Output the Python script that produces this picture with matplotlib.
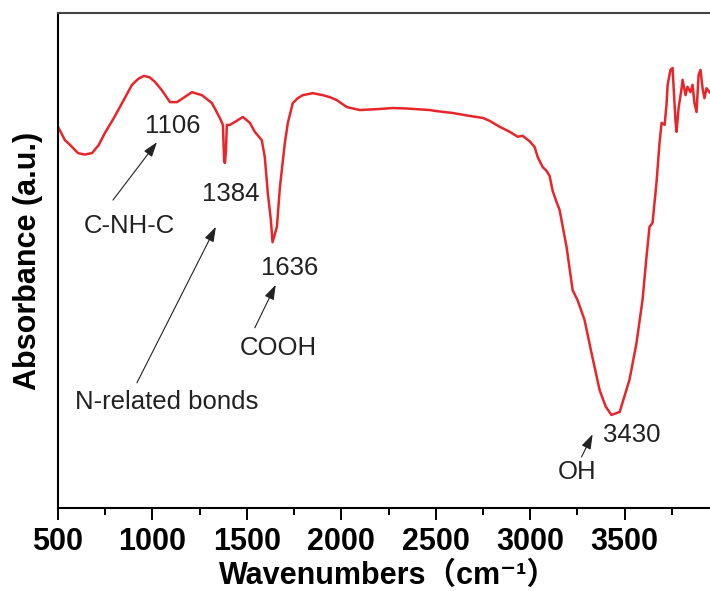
"""FTIR spectrum with labelled absorption bands."""

import matplotlib

matplotlib.use("Agg")
import matplotlib.pyplot as plt  # noqa: E402

plt.rcParams["font.family"] = ["Liberation Sans", "Noto Sans CJK SC", "DejaVu Sans"]

# spectrum (wavenumber in cm-1, absorbance in a.u.)
wavenumber = [
    500, 537, 560, 606, 640, 680, 715, 749, 796, 839, 892, 925, 955, 985,
    1013, 1050, 1093, 1130, 1170, 1209, 1262, 1315, 1357, 1373, 1380, 1384,
    1389, 1394, 1410, 1437, 1479, 1516, 1542, 1579, 1595, 1611, 1627, 1636,
    1659, 1675, 1701, 1717, 1743, 1770, 1796, 1849, 1902, 1939, 1976, 2029,
    2098, 2200, 2272, 2350, 2468, 2500, 2590, 2650, 2680, 2750, 2786, 2839,
    2892, 2934, 2960, 2997, 3024, 3040, 3066, 3087, 3103, 3119, 3140, 3156,
    3193, 3225, 3251, 3288, 3325, 3368, 3400, 3430, 3474, 3526, 3563, 3595,
    3616, 3632, 3648, 3669, 3685, 3696, 3712, 3722, 3728, 3743, 3754, 3759,
    3770, 3775, 3786, 3802, 3807, 3823, 3833, 3849, 3860, 3870, 3881, 3892,
    3902, 3913, 3923, 3934, 3950,
]
absorbance = [
    77.0, 74.3, 73.5, 71.7, 71.4, 71.7, 73.3, 75.8, 78.8, 81.8, 85.5, 86.7, 87.3, 87.0,
    86.1, 84.4, 82.0, 82.0, 83.0, 84.0, 83.4, 81.8, 78.8, 77.4, 70.0, 69.7,
    72.0, 77.4, 77.4, 78.0, 79.0, 77.8, 76.0, 74.3, 70.9, 63.6, 58.2, 53.7,
    56.8, 64.8, 73.7, 77.8, 81.8, 82.8, 83.4, 83.8, 83.4, 83.0, 82.4, 81.0,
    80.4, 80.6, 80.8, 80.7, 80.4, 80.2, 79.8, 79.4, 79.2, 78.8, 78.2, 77.0,
    76.0, 75.0, 75.2, 74.1, 72.9, 70.9, 68.9, 68.1, 67.1, 64.1, 61.8, 60.2,
    52.7, 44.0, 42.0, 38.0, 31.3, 23.8, 20.5, 18.8, 19.4, 25.9, 33.3, 42.0,
    50.7, 56.8, 57.6, 65.7, 73.7, 77.8, 77.4, 81.4, 85.5, 88.5, 88.9, 85.5,
    78.0, 76.0, 80.8, 84.8, 86.5, 83.4, 85.1, 84.0, 85.5, 81.8, 80.0, 87.5,
    88.5, 84.8, 82.8, 84.8, 84.0,
]

# band labels: (text, x, y)
peak_labels = [("1106", 1108, 77.2), ("1384", 1415, 63.4),
               ("1636", 1728, 48.5), ("3430", 3537, 14.7)]
# group labels: (text, text x, text y, arrow tail, arrow head)
group_labels = [
    ("C-NH-C", 876, 57.0, (791, 62.2), (1024, 73.9)),
    ("N-related bonds", 1077, 21.4, (918, 25.3), (1336, 56.8)),
    ("COOH", 1669, 32.3, (1542, 36.4), (1653, 45.1)),
    ("OH", 3251, 7.3, (3272, 10.3), (3331, 14.9)),
]
x_ticks = [500, 1000, 1500, 2000, 2500, 3000, 3500]

fig = plt.figure(figsize=(7.1, 5.91), dpi=100)
ax = fig.add_axes([58 / 710, 83 / 591, 661 / 710, 495 / 591])

ax.plot(wavenumber, absorbance, color="#e8262a", linewidth=1.8)

for text, x, y in peak_labels:
    ax.text(x, y, text, fontsize=18.5, ha="center", va="center", color="#222222")

for text, x, y, tail, head in group_labels:
    ax.text(x, y, text, fontsize=18.5, ha="center", va="center", color="#222222")
    ax.annotate(
        "", xy=head, xytext=tail,
        arrowprops=dict(arrowstyle="-|>,head_length=0.9,head_width=0.3",
                        color="#222222", linewidth=0.8, shrinkA=0, shrinkB=0),
    )

ax.set_xlim(500, 4000)
ax.set_ylim(0, 100)
ax.set_xticks(x_ticks)
ax.set_xticks(range(750, 4000, 500), minor=True)
ax.set_yticks([])
ax.tick_params(axis="x", which="major", direction="out", length=8.5, width=1.4,
               pad=5, labelsize=22)
ax.tick_params(axis="x", which="minor", direction="out", length=5, width=1.4)
for label in ax.get_xticklabels():
    label.set_fontweight("bold")

for side in ["left", "bottom", "top", "right"]:
    ax.spines[side].set_linewidth(1.5)
ax.spines["top"].set_color("#444444")

ax.set_xlabel("Wavenumbers（cm⁻¹）", fontsize=22, fontweight="bold", labelpad=3)
ax.set_ylabel("Absorbance (a.u.)", fontsize=22, fontweight="bold", labelpad=11)

fig.savefig("out.png", dpi=100)
plt.close(fig)
